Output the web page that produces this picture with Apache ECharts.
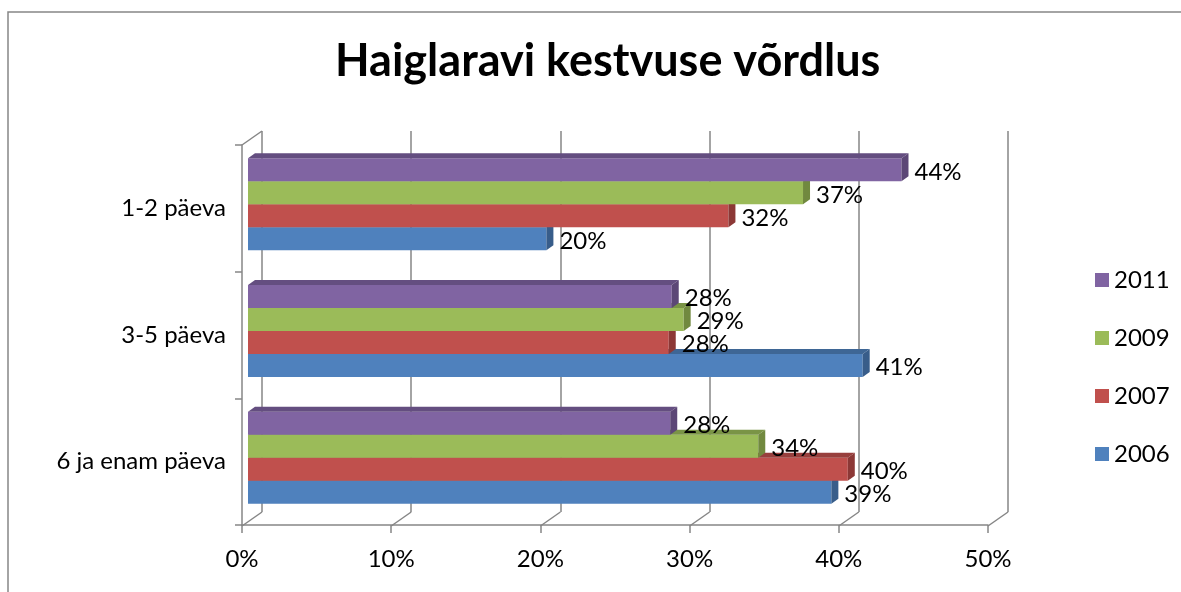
<!DOCTYPE html>
<html>
<head>
<meta charset="utf-8">
<script src="https://cdn.jsdelivr.net/npm/echarts@6/dist/echarts.min.js"></script>
<style>
  html, body { margin: 0; padding: 0; background: #fff; }
  #chart { width: 1181px; height: 592px; }
</style>
</head>
<body>
<div id="chart"></div>
<script>
// data (percent)
var categories = ['1-2 päeva', '3-5 päeva', '6 ja enam päeva'];
var years = ['2006', '2007', '2009', '2011'];
var v2006 = [20.0, 41.2, 39.1];
var v2007 = [32.2, 28.2, 40.2];
var v2009 = [37.2, 29.2, 34.2];
var v2011 = [43.8, 28.4, 28.3];
var xTicks = [0, 10, 20, 30, 40, 50];

var values = [v2006, v2007, v2009, v2011];
// front, top face, side face
var faces = [
  ['#4F81BD', '#3E6695', '#385D8A'],
  ['#C0504D', '#983F3D', '#8C3836'],
  ['#9BBB59', '#7A9446', '#71893F'],
  ['#8064A2', '#644E80', '#5C4776']
];
var font = 'Lato, "Open Sans", sans-serif';
var axisGray = '#868686';
var DX = 7, DY = -5;      // bar depth
var WX = 20, WY = -14;    // wall depth

function barSeries(k) {
  var c = faces[k];
  return {
    type: 'custom', name: years[k], xAxisIndex: 1, yAxisIndex: 1,
    itemStyle: { color: c[0] },
    data: values[k].map(function(v, i) { return [v, i]; }),
    renderItem: function(params, api) {
      var v = api.value(0), ci = api.value(1);
      var c0 = api.coord([0, ci]);
      var c1 = api.coord([v, ci]);
      var band = api.size([0, 1])[1];
      var groupH = band * 0.726, h = groupH / 4;
      var slot = 3 - k;
      var top = c0[1] - groupH / 2 + slot * h;
      var x0 = c0[0], x1 = c1[0];
      return {
        type: 'group',
        children: [
          { type: 'rect', z2: k * 3, shape: { x: x0, y: top, width: x1 - x0, height: h }, style: { fill: c[0] } },
          { type: 'polygon', z2: k * 3 + 1, shape: { points: [[x0, top], [x0 + DX, top + DY], [x1 + DX, top + DY], [x1, top]] }, style: { fill: c[1] } },
          { type: 'polygon', z2: k * 3 + 2, shape: { points: [[x1, top], [x1 + DX, top + DY], [x1 + DX, top + h + DY], [x1, top + h]] }, style: { fill: c[2] } },
          { type: 'text', z2: 100, style: { x: x1 + 13, y: top + h / 2 + 2, text: Math.round(v) + '%', fill: '#000', font: '24px ' + font, textVerticalAlign: 'middle' } }
        ]
      };
    }
  };
}

var chart = echarts.init(document.getElementById('chart'));
var series = [0, 1, 2, 3].map(barSeries);

// back wall connectors
series.unshift({
  type: 'custom', xAxisIndex: 2, yAxisIndex: 2, silent: true,
  data: xTicks.map(function(t) { return [t, 0]; }).concat([[0, 1]]),
  renderItem: function(params, api) {
    var p = api.coord([api.value(0), api.value(1)]);
    return { type: 'line', shape: { x1: p[0], y1: p[1], x2: p[0] - WX, y2: p[1] - WY }, style: { stroke: axisGray, lineWidth: 1.5 } };
  }
});

chart.setOption({
  animation: false,
  title: {
    text: 'Haiglaravi kestvuse võrdlus', left: 330, top: 34,
    textStyle: { fontFamily: font, fontSize: 45, fontWeight: 'bold', color: '#000' }
  },
  graphic: [{ type: 'rect', shape: { x: 8, y: 12, width: 1200, height: 620 }, style: { fill: 'none', stroke: axisGray, lineWidth: 1.5 }, silent: true }],
  legend: {
    data: ['2011', '2009', '2007', '2006'], orient: 'vertical', left: 1090, top: 263,
    itemWidth: 14, itemHeight: 14, itemGap: 34, itemGap: 34, icon: 'rect',
    textStyle: { fontFamily: font, fontSize: 24, color: '#000' }
  },
  grid: [
    { left: 242, top: 145, width: 746, height: 380 },
    { left: 248, top: 141, width: 746, height: 380 },
    { left: 262, top: 131, width: 746, height: 381 }
  ],
  xAxis: [
    { gridIndex: 0, type: 'value', min: 0, max: 50, interval: 10,
      axisLine: { show: true, lineStyle: { color: axisGray, width: 1.5 } },
      axisTick: { show: true, length: 8, lineStyle: { color: axisGray, width: 1.5 } },
      axisLabel: { formatter: '{value}%', margin: 22, fontFamily: font, fontSize: 24, color: '#000' },
      splitLine: { show: false } },
    { gridIndex: 1, type: 'value', min: 0, max: 50, show: false },
    { gridIndex: 2, type: 'value', min: 0, max: 50, interval: 10,
      axisLine: { show: false }, axisTick: { show: false }, axisLabel: { show: false },
      splitLine: { show: true, lineStyle: { color: axisGray, width: 1.5 } } }
  ],
  yAxis: [
    { gridIndex: 0, type: 'category', data: categories, inverse: true,
      axisLine: { show: true, lineStyle: { color: axisGray, width: 1.5 } },
      axisTick: { show: true, length: 7, lineStyle: { color: axisGray, width: 1.5 } },
      axisLabel: { margin: 16, padding: [10, 0, 0, 0], fontFamily: font, fontSize: 24, color: '#000' } },
    { gridIndex: 1, type: 'category', data: categories, inverse: true, show: false },
    { gridIndex: 2, type: 'value', min: 0, max: 1, show: false, splitLine: { show: false } }
  ],
  series: series
});
</script>
</body>
</html>
